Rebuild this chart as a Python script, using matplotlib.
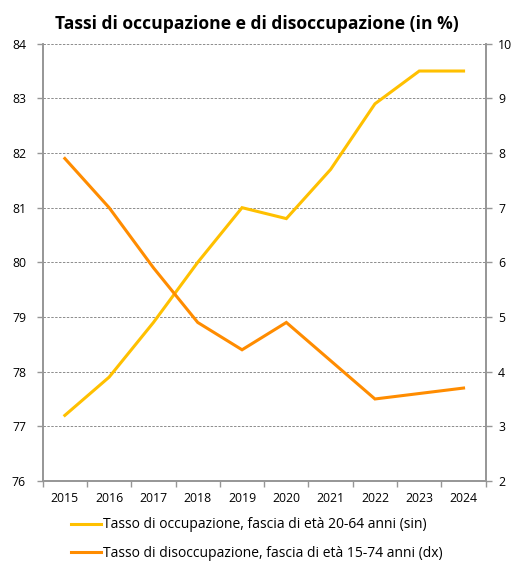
import matplotlib.pyplot as plt
from matplotlib.lines import Line2D

plt.rcParams['font.family'] = ['Open Sans', 'DejaVu Sans']

# Dati
anni = ['2015', '2016', '2017', '2018', '2019', '2020', '2021', '2022', '2023', '2024']
occupazione = [77.2, 77.9, 78.9, 80.0, 81.0, 80.8, 81.7, 82.9, 83.5, 83.5]
disoccupazione = [7.9, 7.0, 5.9, 4.9, 4.4, 4.9, 4.2, 3.5, 3.6, 3.7]

lab_occ = 'Tasso di occupazione, fascia di età 20-64 anni (sin)'
lab_dis = 'Tasso di disoccupazione, fascia di età 15-74 anni (dx)'

giallo = '#FFC000'
arancio = '#FF8C00'
grigio = '#969696'

fig = plt.figure(figsize=(5.13, 5.63), dpi=100)
ax = fig.add_axes([0.0832, 0.1457, 0.8636, 0.7767])
ax2 = ax.twinx()

x = list(range(len(anni)))
ax.plot(x, occupazione, color=giallo, linewidth=2.2, solid_joinstyle='miter')
ax2.plot(x, disoccupazione, color=arancio, linewidth=2.2, solid_joinstyle='miter')

ax.set_xlim(-0.5, len(anni) - 0.5)
ax.set_ylim(76, 84)
ax2.set_ylim(2, 10)
ax.set_yticks(range(76, 85))
ax2.set_yticks(range(2, 11))

# griglia tratteggiata
for v in range(77, 85):
    ax.axhline(v, color='#8c8c8c', linewidth=0.7, linestyle=(0, (2.5, 1.5)), zorder=0)

# assi e tacche
for a in (ax, ax2):
    a.spines['top'].set_visible(False)
    for s in ('left', 'right', 'bottom'):
        a.spines[s].set_color(grigio)
        a.spines[s].set_linewidth(1.2)
ax.tick_params(axis='y', length=4, width=1, color=grigio, labelsize=8.8, pad=8)
ax2.tick_params(axis='y', length=4, width=1, color=grigio, labelsize=8.8, pad=5)

ax.set_xticks(x)
ax.set_xticklabels(anni, fontsize=8.8)
ax.tick_params(axis='x', which='major', length=0, pad=8)
ax.set_xticks([i - 0.5 for i in range(len(anni) + 1)], minor=True)
ax.tick_params(axis='x', which='minor', length=4, width=1, color=grigio)

fig.text(0.5, 0.957, 'Tassi di occupazione e di disoccupazione (in %)',
         ha='center', va='center', fontsize=12.6, fontweight='bold')

handles = [Line2D([], [], color=giallo, linewidth=2.2),
           Line2D([], [], color=arancio, linewidth=2.2)]
fig.legend(handles, [lab_occ, lab_dis], loc='center', bbox_to_anchor=(0.5, 0.042),
           ncol=1, frameon=False, fontsize=10.0, handlelength=2.2,
           handletextpad=0.1, labelspacing=1.0)

fig.savefig('out.png', dpi=100)
